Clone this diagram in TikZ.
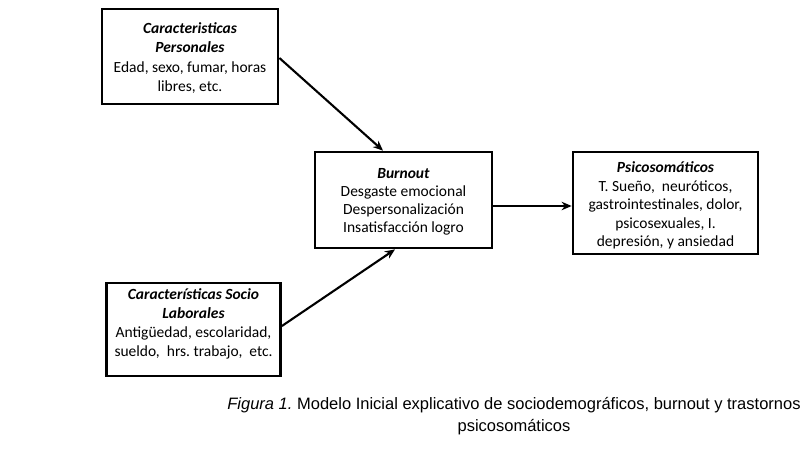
\documentclass[tikz,border=0pt]{standalone}
\usepackage{fontspec}
\setmainfont{Carlito}[BoldItalicFont={Carlito Bold Italic}]
\newfontfamily\capfont{Liberation Sans}
\usetikzlibrary{arrows.meta}
\frenchspacing
\begin{document}
\begin{tikzpicture}[x=1pt,y=-1pt,
  box/.style={draw=black, line width=2.8pt, fill=white, inner sep=0pt, align=center,
    font=\fontsize{15.5}{18.8}\selectfont},
  arr/.style={line width=2.1pt, -{Stealth[length=10pt,width=8.5pt]}}]
\useasboundingbox (0,0) rectangle (805,449);
\node[box, minimum width=176pt, minimum height=95pt] (pers) at (190,56.5) {};
\node[align=center, font=\fontsize{15.5}{19.3}\selectfont, inner sep=0pt] (perst) at (190,58)
  {\textbf{\textit{Caracteristicas}}\\\textbf{\textit{Personales}}\\Edad, sexo, fumar, horas\\libres, etc.};
\node[box, minimum width=177pt, minimum height=96pt] (burn) at (403.5,200) {};
\node[align=center, font=\fontsize{15.5}{17.8}\selectfont, inner sep=0pt] (burnt) at (403.5,202)
  {\textbf{\textit{Burnout}}\\Desgaste emocional\\Despersonalización\\Insatisfacción logro};
\node[box, minimum width=185pt, minimum height=102pt] (psic) at (665.5,203) {};
\node[align=center, font=\fontsize{15.5}{18.4}\selectfont, inner sep=0pt] (psict) at (665.5,205.5)
  {\textbf{\textit{Psicosomáticos}}\\T. Sueño,\ \ neuróticos,\\gastrointestinales, dolor,\\psicosexuales, I.\\depresión,\ y ansiedad};
\node[box, minimum width=174pt, minimum height=93pt] (lab) at (193.5,329.5) {};
\node[align=center, font=\fontsize{15.5}{18.8}\selectfont, inner sep=0pt] (labt) at (193.5,324)
  {\textbf{\textit{Características Socio}}\\\textbf{\textit{Laborales}}\\Antigüedad, escolaridad,\\sueldo,\ \ hrs. trabajo,\ \ etc.};
\draw[arr] ([yshift=-1.5pt]pers.east) -- ([xshift=-20.5pt]burn.north);
\draw[arr] ([yshift=3.5pt]lab.east) -- ([xshift=-8.5pt]burn.south);
\draw[arr] ([yshift=-6pt]burn.east) -- ([yshift=-3pt]psic.west);
\node[font=\capfont\fontsize{16.5}{21.5}\selectfont, align=center, inner sep=0pt] (cap) at (514,416)
  {\textit{Figura 1.}\ Modelo Inicial explicativo de sociodemográficos, burnout y trastornos\\psicosomáticos};
\end{tikzpicture}
\end{document}
